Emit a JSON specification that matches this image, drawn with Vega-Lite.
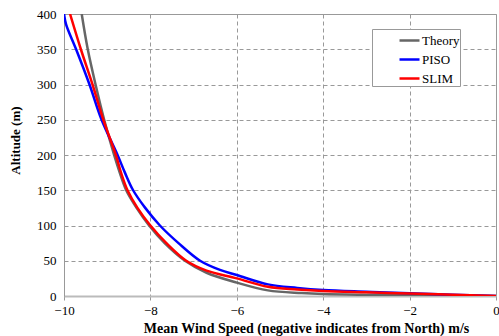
{
  "$schema": "https://vega.github.io/schema/vega-lite/v6.json",
  "width": 432,
  "height": 282,
  "autosize": {"type": "none"},
  "padding": {"left": 64, "top": 14, "right": 3, "bottom": 40},
  "background": "white",
  "config": {
    "view": {"stroke": "#999999", "strokeWidth": 1},
    "font": "Liberation Serif"
  },
  "data": {
    "values": [
      {"series": "Theory", "speed": -9.59, "alt": 400},
      {"series": "Theory", "speed": -9.45, "alt": 350},
      {"series": "Theory", "speed": -9.27, "alt": 300},
      {"series": "Theory", "speed": -9.07, "alt": 250},
      {"series": "Theory", "speed": -8.84, "alt": 200},
      {"series": "Theory", "speed": -8.71, "alt": 175},
      {"series": "Theory", "speed": -8.56, "alt": 150},
      {"series": "Theory", "speed": -8.32, "alt": 125},
      {"series": "Theory", "speed": -8.03, "alt": 100},
      {"series": "Theory", "speed": -7.67, "alt": 75},
      {"series": "Theory", "speed": -7.2, "alt": 50},
      {"series": "Theory", "speed": -6.7, "alt": 33},
      {"series": "Theory", "speed": -6.0, "alt": 19},
      {"series": "Theory", "speed": -5.28, "alt": 8},
      {"series": "Theory", "speed": -4.5, "alt": 4.2},
      {"series": "Theory", "speed": -4.0, "alt": 2.8},
      {"series": "Theory", "speed": -3.0, "alt": 1.7},
      {"series": "Theory", "speed": -2.0, "alt": 1.0},
      {"series": "Theory", "speed": -1.0, "alt": 0.4},
      {"series": "Theory", "speed": 0.0, "alt": 0},
      {"series": "PISO", "speed": -10.0, "alt": 400},
      {"series": "PISO", "speed": -9.95, "alt": 385},
      {"series": "PISO", "speed": -9.72, "alt": 350},
      {"series": "PISO", "speed": -9.41, "alt": 300},
      {"series": "PISO", "speed": -9.13, "alt": 250},
      {"series": "PISO", "speed": -8.76, "alt": 200},
      {"series": "PISO", "speed": -8.59, "alt": 175},
      {"series": "PISO", "speed": -8.4, "alt": 150},
      {"series": "PISO", "speed": -8.12, "alt": 125},
      {"series": "PISO", "speed": -7.78, "alt": 100},
      {"series": "PISO", "speed": -7.35, "alt": 75},
      {"series": "PISO", "speed": -6.85, "alt": 50},
      {"series": "PISO", "speed": -6.39, "alt": 37},
      {"series": "PISO", "speed": -6.0, "alt": 29.8},
      {"series": "PISO", "speed": -5.28, "alt": 16.5},
      {"series": "PISO", "speed": -4.6, "alt": 11.5},
      {"series": "PISO", "speed": -4.0, "alt": 8.5},
      {"series": "PISO", "speed": -3.0, "alt": 6.0},
      {"series": "PISO", "speed": -2.0, "alt": 3.8},
      {"series": "PISO", "speed": -1.0, "alt": 1.8},
      {"series": "PISO", "speed": 0.0, "alt": 0},
      {"series": "SLIM", "speed": -9.86, "alt": 400},
      {"series": "SLIM", "speed": -9.61, "alt": 350},
      {"series": "SLIM", "speed": -9.34, "alt": 300},
      {"series": "SLIM", "speed": -9.09, "alt": 250},
      {"series": "SLIM", "speed": -8.8, "alt": 200},
      {"series": "SLIM", "speed": -8.68, "alt": 175},
      {"series": "SLIM", "speed": -8.53, "alt": 150},
      {"series": "SLIM", "speed": -8.3, "alt": 125},
      {"series": "SLIM", "speed": -8.0, "alt": 100},
      {"series": "SLIM", "speed": -7.63, "alt": 75},
      {"series": "SLIM", "speed": -7.17, "alt": 50},
      {"series": "SLIM", "speed": -6.7, "alt": 36},
      {"series": "SLIM", "speed": -6.0, "alt": 25},
      {"series": "SLIM", "speed": -5.28, "alt": 13},
      {"series": "SLIM", "speed": -4.6, "alt": 9.2},
      {"series": "SLIM", "speed": -4.0, "alt": 7.0},
      {"series": "SLIM", "speed": -3.0, "alt": 5.2},
      {"series": "SLIM", "speed": -2.0, "alt": 3.6},
      {"series": "SLIM", "speed": -1.0, "alt": 1.8},
      {"series": "SLIM", "speed": 0.0, "alt": 0}
    ]
  },
  "mark": {"type": "line", "strokeWidth": 2.5, "clip": true, "interpolate": "catmull-rom"},
  "encoding": {
    "x": {
      "field": "speed",
      "type": "quantitative",
      "scale": {"domain": [-10, 0], "nice": false, "zero": false},
      "axis": {
        "values": [-10, -8, -6, -4, -2, 0],
        "title": "Mean Wind  Speed (negative indicates  from  North)  m/s",
        "titleFont": "Liberation Serif",
        "titleFontWeight": "bold",
        "titleFontSize": 14,
        "titleColor": "#000000",
        "titlePadding": 4,
        "titleX": 242,
        "labelFont": "Liberation Serif",
        "labelFontSize": 13,
        "labelColor": "#000000",
        "labelPadding": 4,
        "labelFlush": false,
        "domainColor": "#bbbbbb",
        "domainWidth": 2,
        "tickColor": "#999999",
        "tickSize": 4,
        "gridColor": "#999999",
        "gridDash": [4, 3],
        "gridWidth": 1
      }
    },
    "y": {
      "field": "alt",
      "type": "quantitative",
      "scale": {"domain": [0, 400], "nice": false},
      "axis": {
        "values": [0, 50, 100, 150, 200, 250, 300, 350, 400],
        "title": "Altitude  (m)",
        "titleFont": "Liberation Serif",
        "titleFontWeight": "bold",
        "titleFontSize": 13,
        "titleColor": "#000000",
        "titlePadding": 14,
        "titleY": 126,
        "labelFont": "Liberation Serif",
        "labelFontSize": 13,
        "labelColor": "#000000",
        "labelPadding": 8,
        "labelFlush": false,
        "domainColor": "#999999",
        "ticks": false,
        "gridColor": "#999999",
        "gridDash": [4, 3],
        "gridWidth": 1
      }
    },
    "order": {"field": "alt", "type": "quantitative"},
    "color": {
      "field": "series",
      "type": "nominal",
      "scale": {"domain": ["Theory", "PISO", "SLIM"], "range": ["#666666", "#0000ff", "#ff0000"]},
      "legend": {
        "title": null,
        "orient": "none",
        "legendX": 308,
        "legendY": 15,
        "strokeColor": "#999999",
        "fillColor": "white",
        "padding": 0,
        "symbolType": "stroke",
        "symbolSize": 400,
        "symbolOffset": 26,
        "symbolStrokeWidth": 2.5,
        "labelFont": "Liberation Serif",
        "labelFontSize": 13,
        "labelColor": "#000000",
        "labelLimit": 300,
        "labelExpr": "datum.label + '\u00a0\u00a0\u00a0\u00a0\u00a0\u00a0\u00a0\u00a0\u00a0'",
        "rowPadding": 0,
        "labelOffset": 1,
        "offset": 0
      }
    }
  }
}
